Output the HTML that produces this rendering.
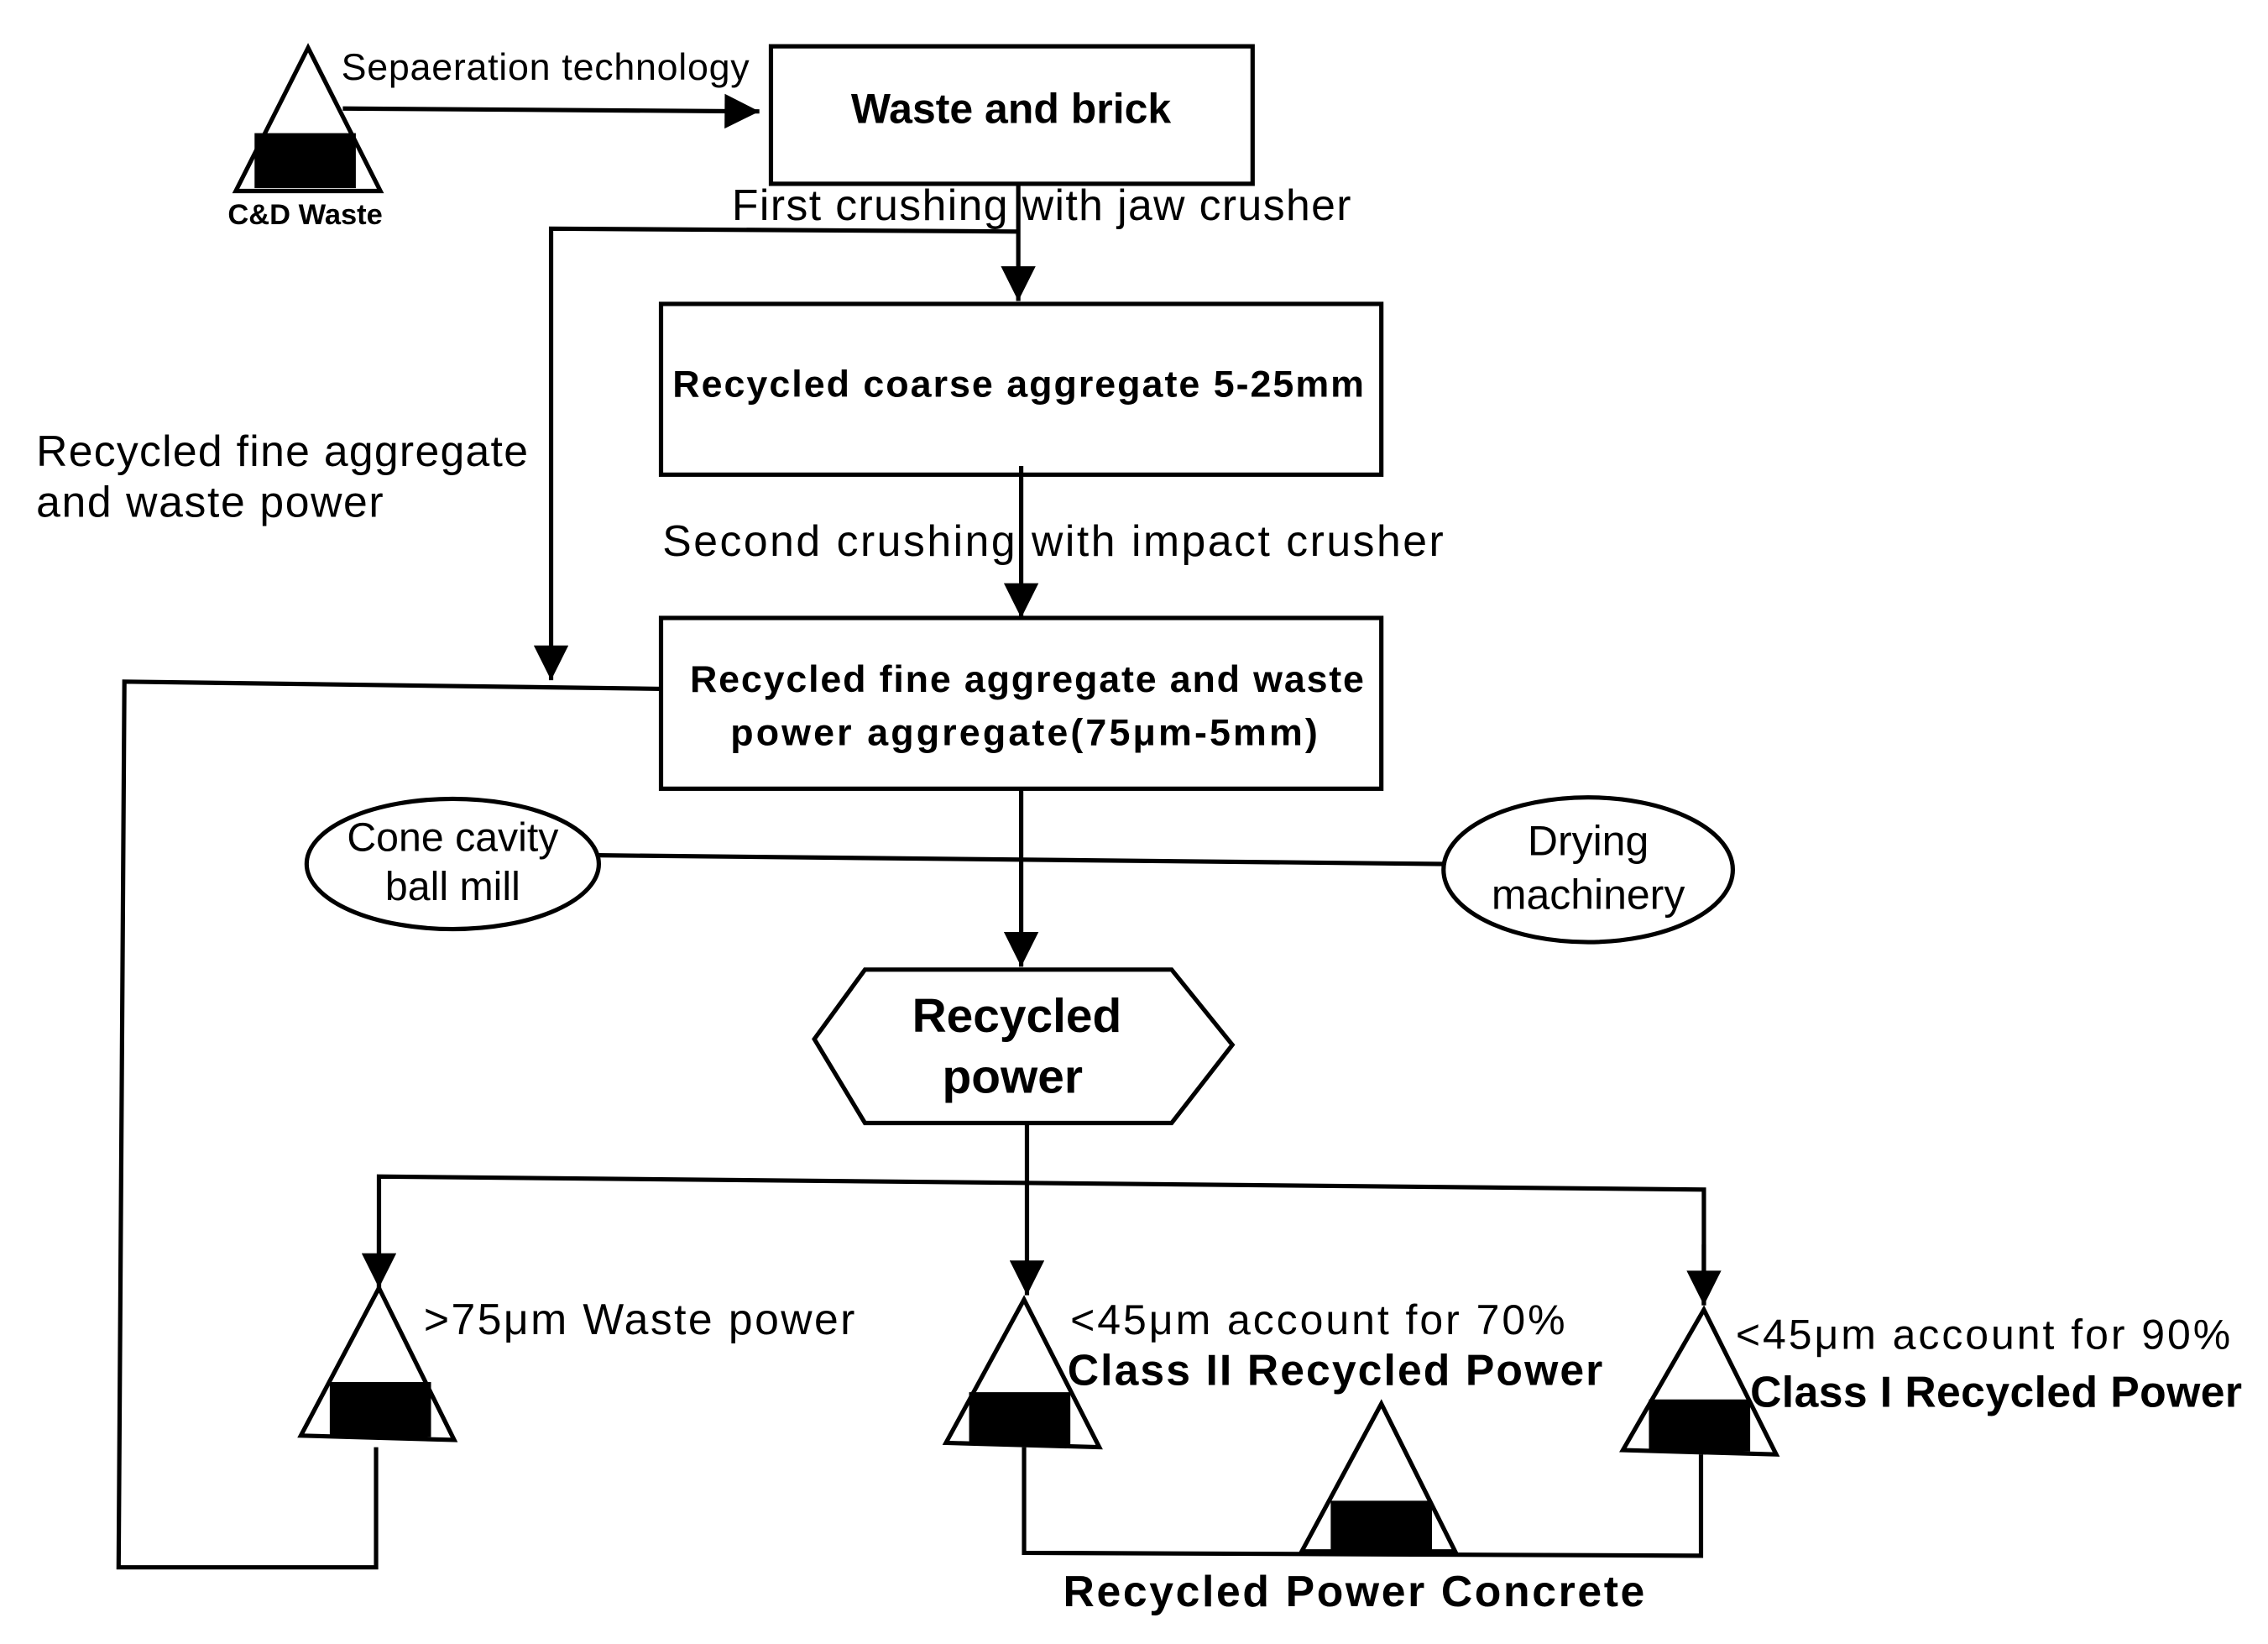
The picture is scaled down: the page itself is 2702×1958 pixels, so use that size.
<!DOCTYPE html>
<html><head><meta charset="utf-8"><style>html,body{margin:0;padding:0;background:#fff}svg{display:block}</style></head>
<body>
<svg width="2702" height="1958" viewBox="0 0 1568 1136" preserveAspectRatio="none" xmlns="http://www.w3.org/2000/svg" font-family="Liberation Sans, sans-serif">
<defs>
<marker id="b" viewBox="0 0 20 20" refX="20" refY="10" markerWidth="36" markerHeight="24" markerUnits="userSpaceOnUse" orient="auto"><path d="M0,0L20,10L0,20z"/></marker></defs>
<g fill="none" stroke="#000" stroke-width="3">
<polygon points="213,33 163,132 263,132"/>
<line x1="237" y1="75" x2="525" y2="77" marker-end="url(#b)"/>
<rect x="533" y="32" width="333" height="95"/>
<line x1="704" y1="127" x2="704" y2="208" marker-end="url(#b)"/>
<polyline points="704,160 381,158 381,470" marker-end="url(#b)"/>
<rect x="457" y="210" width="498" height="118"/>
<line x1="706" y1="322" x2="706" y2="427" marker-end="url(#b)"/>
<rect x="457" y="427" width="498" height="118"/>
<polyline points="457,476 86,471 82,1083 260,1083 260,1000"/>
<ellipse cx="313" cy="597" rx="101" ry="45"/>
<ellipse cx="1098" cy="601" rx="100" ry="50"/>
<line x1="414" y1="591" x2="998" y2="597"/>
<line x1="706" y1="545" x2="706" y2="668" marker-end="url(#b)"/>
<polygon points="563,718 598,670 810,670 852,722 810,776 598,776"/>
<line x1="710" y1="776" x2="710" y2="895" marker-end="url(#b)"/>
<polyline points="262,890 262,813 1178,822 1178,902" />
<line x1="262" y1="850" x2="262" y2="890" marker-end="url(#b)"/>
<line x1="1178" y1="860" x2="1178" y2="902" marker-end="url(#b)"/>
<polygon points="262,890 208,992 314,995"/>
<polygon points="708,898 654,997 760,1000"/>
<polygon points="1178,905 1122,1002 1228,1005"/>
<polygon points="955,970 900,1072 1006,1072"/>
<polyline points="708,1000 708,1073 1176,1075 1176,1005"/>
</g>
<g fill="#000">
<rect x="176" y="92" width="70" height="38"/>
<rect x="228" y="955" width="70" height="38"/>
<rect x="670" y="962" width="70" height="36"/>
<rect x="1140" y="967" width="70" height="36"/>
<rect x="920" y="1037" width="70" height="35"/>
</g>
<g font-size="26">
<text x="236" y="55" textLength="282">Sepaeration technology</text>
<text x="506" y="152" font-size="30" textLength="428">First crushing with jaw crusher</text>
<text x="458" y="384" font-size="30" textLength="540">Second crushing with impact crusher</text>
<text x="25" y="322" font-size="30" textLength="340">Recycled fine aggregate</text>
<text x="25" y="357" font-size="30" textLength="240">and waste power</text>
<text x="313" y="588" font-size="28" text-anchor="middle">Cone cavity</text>
<text x="313" y="622" font-size="28" text-anchor="middle">ball mill</text>
<text x="1098" y="591" font-size="29" text-anchor="middle">Drying</text>
<text x="1098" y="628" font-size="29" text-anchor="middle">machinery</text>
<text x="293" y="922" font-size="30" textLength="298">&gt;75μm Waste power</text>
<text x="740" y="922" font-size="29" textLength="342">&lt;45μm account for 70%</text>
<text x="1200" y="932" font-size="29" textLength="342">&lt;45μm account for 90%</text>
</g>
<g font-weight="bold">
<text x="211" y="155" font-size="20" text-anchor="middle">C&amp;D Waste</text>
<text x="699" y="85" font-size="29" text-anchor="middle">Waste and brick</text>
<text x="704" y="274" font-size="26" text-anchor="middle" textLength="478">Recycled coarse aggregate 5-25mm</text>
<text x="710" y="478" font-size="26" text-anchor="middle" textLength="466">Recycled fine aggregate and waste</text>
<text x="708" y="515" font-size="26" text-anchor="middle" textLength="406">power aggregate(75μm-5mm)</text>
<text x="703" y="713" font-size="33" text-anchor="middle">Recycled</text>
<text x="700" y="755" font-size="33" text-anchor="middle">power</text>
<text x="738" y="957" font-size="30" textLength="370">Class II Recycled Power</text>
<text x="1210" y="972" font-size="30" textLength="340">Class I Recycled Power</text>
<text x="735" y="1110" font-size="30" textLength="402">Recycled Power Concrete</text>
</g>
</svg>
</body></html>
